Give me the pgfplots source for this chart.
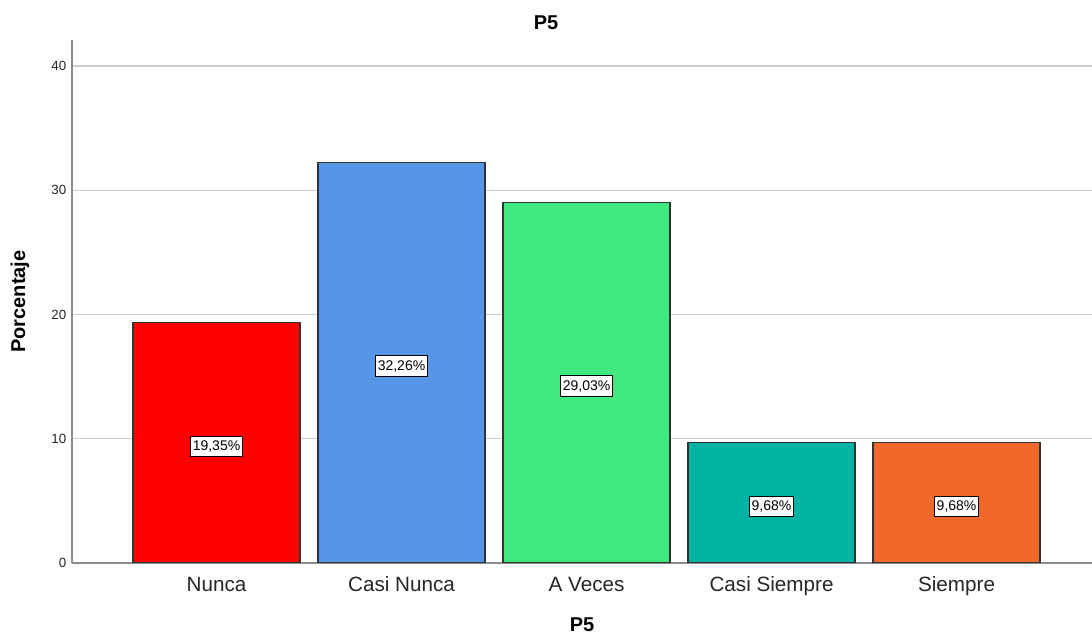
\documentclass[border=0pt]{standalone}
\usepackage{pgfplots}
\pgfplotsset{compat=1.18}
\usepackage{pgfplotstable}
\usepackage{fontspec}
\setmainfont{Liberation Sans}
\newlength\px \setlength\px{0.75pt}
\definecolor{cRed}{HTML}{FF0000}
\definecolor{cBlue}{HTML}{5596E6}
\definecolor{cGreen}{HTML}{40E87F}
\definecolor{cTeal}{HTML}{00B3A2}
\definecolor{cOrange}{HTML}{F2682B}
\definecolor{gridc}{HTML}{CCCCCC}
\definecolor{axisc}{HTML}{8C8C8C}

\pgfplotstableread{
x mid val
0 9.675 19.35
1 16.13 32.26
2 14.515 29.03
3 4.84 9.68
4 4.84 9.68
}\labs

\begin{document}
\begin{tikzpicture}
\begin{axis}[
  name=ax,
  scale only axis,
  width=1020\px, height=523\px,
  xmin=-0.781, xmax=4.732,
  ymin=0, ymax=42.1,
  axis x line*=bottom, axis y line*=left,
  axis line style={draw=axisc, line width=1.6\px},
  major tick length=0pt,
  xtick={0,1,2,3,4},
  xticklabels={Nunca, Casi Nunca, A Veces, Casi Siempre, Siempre},
  xticklabel style={font=\fontsize{15.5}{18}\selectfont, text=black!85, text height=0.72em, text depth=0.21em, yshift=-14\px},
  ytick={0,10,20,30,40},
  yticklabel style={font=\fontsize{10}{12}\selectfont, text=black!85, xshift=-1\px},
  /pgf/number format/assume math mode=true,
  ymajorgrids,
  grid style={draw=gridc, line width=1.3\px},
  title={P5},
  title style={at={(axis description cs:0.4647,1.0172)}, anchor=center, font=\bfseries\fontsize{15}{18}\selectfont},
  xlabel={P5},
  xlabel style={at={(axis description cs:0.5,-0.1185)}, anchor=center, font=\bfseries\fontsize{15}{18}\selectfont},
  ylabel={Porcentaje},
  ylabel style={at={(axis description cs:-0.051,0.5)}, anchor=center, font=\bfseries\fontsize{15}{18}\selectfont},
]
\addplot[ybar, bar width=0.9027, bar shift=0pt, fill=cRed, draw=black!80, line width=1.2\px] coordinates {(0,19.35)};
\addplot[ybar, bar width=0.9027, bar shift=0pt, fill=cBlue, draw=black!80, line width=1.2\px] coordinates {(1,32.26)};
\addplot[ybar, bar width=0.9027, bar shift=0pt, fill=cGreen, draw=black!80, line width=1.2\px] coordinates {(2,29.03)};
\addplot[ybar, bar width=0.9027, bar shift=0pt, fill=cTeal, draw=black!80, line width=1.2\px] coordinates {(3,9.68)};
\addplot[ybar, bar width=0.9027, bar shift=0pt, fill=cOrange, draw=black!80, line width=1.2\px] coordinates {(4,9.68)};
\addplot[only marks, mark=none, point meta=explicit,
  nodes near coords={\pgfmathprintnumber[fixed, fixed zerofill, precision=2, use comma]{\pgfplotspointmeta}\%},
  every node near coord/.append style={anchor=center, yshift=-3.5\px, fill=white, draw=black, line width=1\px,
    inner xsep=2\px, inner ysep=4.5\px, font=\fontsize{10.5}{12}\selectfont, text=black},
] table[x=x, y=mid, meta=val] {\labs};
\end{axis}
\pgfresetboundingbox
\path[use as bounding box] ([xshift=-72\px,yshift=-72\px]ax.south west) rectangle ([yshift=40\px]ax.north east);
\end{tikzpicture}
\end{document}
